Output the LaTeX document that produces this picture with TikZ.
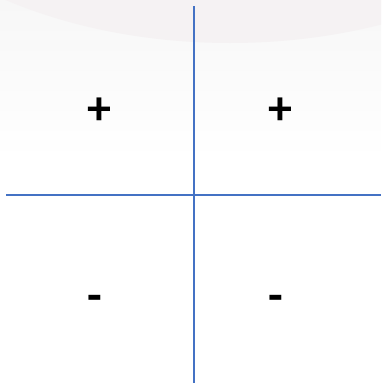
\documentclass[tikz,border=0pt]{standalone}
\usepackage{fontspec}
\setmainfont{Carlito}
\usetikzlibrary{positioning}
\definecolor{eje}{HTML}{4472C4}
\definecolor{rosa}{HTML}{F5F2F3}
\definecolor{niebla}{HTML}{F7F7F7}

\begin{document}
\begin{tikzpicture}[x=1pt,y=-1pt,line cap=butt]
    \tikzset{signo/.style={font=\fontsize{48}{48}\selectfont\bfseries,inner sep=0pt,text=black}}
    % --- fondo ---
    \useasboundingbox (0,0) rectangle (381,383);
    \fill[white] (0,0) rectangle (381,383);
    \shade[top color=niebla,bottom color=white] (0,0) rectangle (381,160);
    \begin{scope}
      \clip (0,0) rectangle (381,383);
      \fill[rosa] (230,-207) ellipse (400 and 250);
    \end{scope}
    % --- ejes ---
    \coordinate (N) at (194,6);   \coordinate (S) at (194,383);
    \coordinate (W) at (6,195);   \coordinate (E) at (381,195);
    \draw[eje,line width=1.6pt] (N) -- (S);
    \draw[eje,line width=1.6pt] (W) -- (E);
    % --- signos por cuadrante ---
    \node[signo] (mas1)   at (99,111)  {+};
    \node[signo] (mas2)   at (280,111) {+};
    \node[signo] (menos1) at (94.5,303) {-};
    \node[signo] (menos2) at (275.5,303) {-};
\end{tikzpicture}
\end{document}
